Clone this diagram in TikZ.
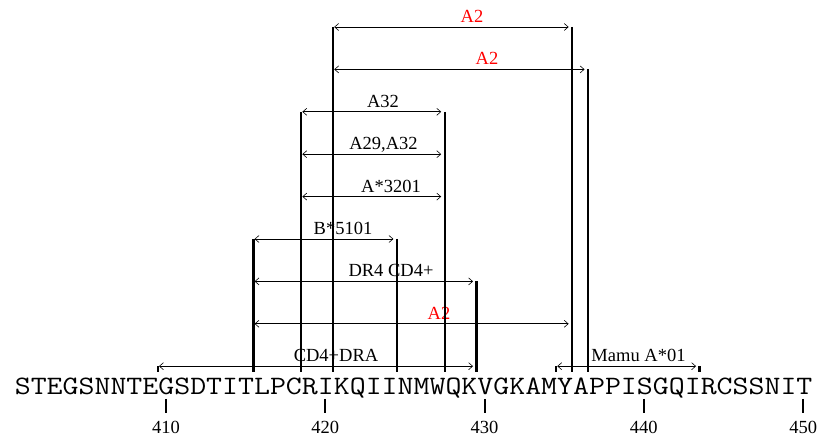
\documentclass[tikz,border=0pt]{standalone}
\usepackage{fontspec}
\usepackage{graphicx}
\setmainfont{Liberation Serif}
\usetikzlibrary{arrows.meta}
\begin{document}
\begin{tikzpicture}[x=1pt,y=1pt,
  lab/.style={font=\fontsize{18.5}{20}\selectfont, inner sep=0pt, anchor=base},
  redlab/.style={lab, text=red},
  bar/.style={line width=2.3pt},
  spanarrow/.style={line width=0.6pt, {Straight Barb[length=4pt,width=7pt]}-{Straight Barb[length=4pt,width=7pt]}},
  numtick/.style={line width=2pt},
  num/.style={font=\fontsize{18.5}{20}\selectfont, inner sep=0pt, anchor=base}]
\useasboundingbox (0,0) rectangle (825,441);
% row heights
\def\ra{414}\def\rb{371.6}\def\rc{329.2}\def\rd{286.8}\def\re{244.4}
\def\rf{202}\def\rg{159.6}\def\rh{117.2}\def\ri{74.8}
\def\bot{69}
% sequence
\node[inner sep=0pt, anchor=base west] (seq) at (14.6,46) {\scalebox{1.1667}[1]{\ttfamily\fontsize{26.55}{28}\selectfont STEGSNNTEGSDTITLPCRIKQIINMWQKVGKAMYAPPISGQIRCSSNIT}};
% position ticks and numbers
\foreach \c/\n in {10/410,20/420,30/430,40/440,50/450}{
  \coordinate (t\n a) at ({14.6+15.93*(\c-0.5)},42);
  \coordinate (t\n b) at ({14.6+15.93*(\c-0.5)},28);
  \draw[numtick] (t\n a) -- (t\n b);
  \node[num] (n\n) at ({14.6+15.93*(\c-0.5)},7) {\n};
}
% labels
\node[redlab] (l1) at (472,{\ra+4.5}) {A2};
\node[redlab] (l2) at (487,{\rb+4.5}) {A2};
\node[lab] (l3) at (383,{\rc+4.5}) {A32};
\node[lab] (l4) at (383.5,{\rd+4.5}) {A29,A32};
\node[lab] (l5) at (391,{\re+4.5}) {A*3201};
\node[lab] (l6) at (343,{\rf+4.5}) {B*5101};
\node[lab] (l7) at (391,{\rg+4.5}) {DR4 CD4+};
\node[redlab] (l8) at (439,{\rh+4.5}) {A2};
\node[lab] (l9) at (336,{\ri+4.5}) {CD4+DRA};
\node[lab] (l10) at (638.5,{\ri+4.5}) {Mamu A*01};
% span arrows
\foreach \nm/\a/\b/\y in {s1/20/35/\ra, s2/20/36/\rb, s3/18/27/\rc, s4/18/27/\rd, s5/18/27/\re, s6/15/24/\rf, s7/15/29/\rg, s8/15/35/\rh, s9/9/29/\ri, s10/34/43/\ri}{
  \coordinate (\nm a) at ({14.6+15.93*\a+1},\y);
  \coordinate (\nm b) at ({14.6+15.93*\b-3.5},\y);
  \draw[spanarrow] (\nm a) -- (\nm b);
}
% boundary bars
\foreach \k/\y in {9/\ri, 15/\rf, 18/\rc, 20/\ra, 24/\rf, 27/\rc, 29/\rg, 34/\ri, 35/\ra, 36/\rb, 43/\ri}{
  \coordinate (v\k top) at ({14.6+15.93*\k},\y);
  \coordinate (v\k bot) at ({14.6+15.93*\k},\bot);
  \draw[bar] (v\k top) -- (v\k bot);
}
\end{tikzpicture}
\end{document}
